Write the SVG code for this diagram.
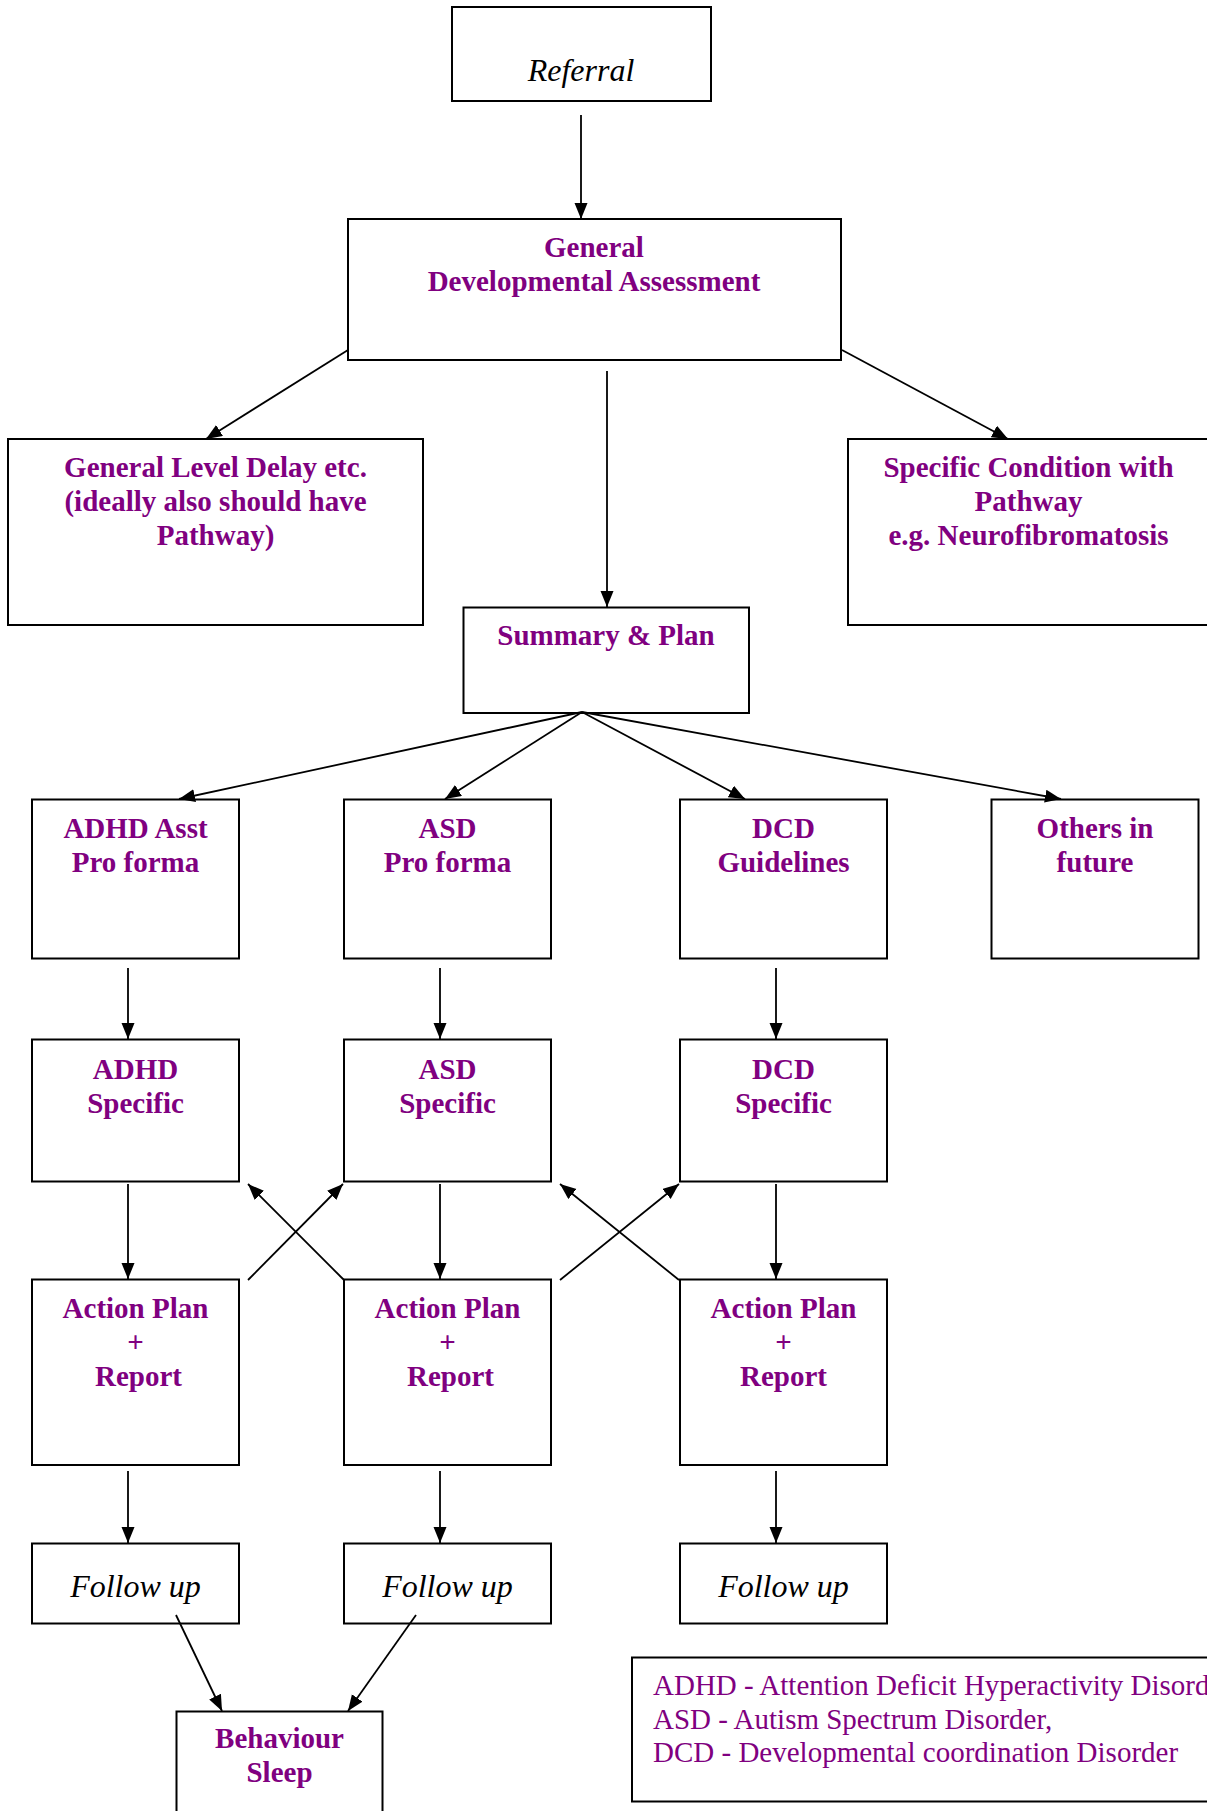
<svg xmlns="http://www.w3.org/2000/svg" width="1207" height="1811" viewBox="0 0 1207 1811">
<style>
.box{fill:#fff;stroke:#000;stroke-width:2}
.b{font-family:"Liberation Serif","Times New Roman",serif;font-weight:bold;font-size:29px;fill:#800080;text-anchor:middle}
.i{font-family:"Liberation Serif","Times New Roman",serif;font-style:italic;font-size:32px;fill:#000;text-anchor:middle}
.r{font-family:"Liberation Serif","Times New Roman",serif;font-size:29px;fill:#800080}
.c line{stroke:#000;stroke-width:1.8;marker-end:url(#ah)}
</style>
<defs>
<marker id="ah" markerUnits="userSpaceOnUse" markerWidth="18" markerHeight="14" refX="16" refY="6.5" orient="auto">
<path d="M0,0 L16,6.5 L0,13 z" fill="#000"/>
</marker>
</defs>
<rect width="1207" height="1811" fill="#fff"/>
<g id="n-referral"><rect class="box" x="452" y="7" width="259" height="94"/><text class="i" x="581" y="81">Referral</text></g>
<g id="n-gda"><rect class="box" x="348" y="219" width="493" height="141"/><text class="b" x="594" y="257">General</text><text class="b" x="594" y="291">Developmental Assessment</text></g>
<g id="n-gld"><rect class="box" x="8" y="439" width="415" height="186"/><text class="b" x="215.5" y="477">General Level Delay etc.</text><text class="b" x="215.5" y="511">(ideally also should have</text><text class="b" x="215.5" y="545">Pathway)</text></g>
<g id="n-specific"><rect class="box" x="848" y="439" width="362" height="186"/><text class="b" x="1028.5" y="477">Specific Condition with</text><text class="b" x="1028.5" y="511">Pathway</text><text class="b" x="1028.5" y="545">e.g. Neurofibromatosis</text></g>
<g id="n-summary"><rect class="box" x="463.5" y="607.5" width="285.5" height="105.5"/><text class="b" x="606" y="645">Summary &amp; Plan</text></g>
<g id="n-adhd-asst"><rect class="box" x="32" y="799.5" width="207" height="159"/><text class="b" x="135.5" y="838">ADHD Asst</text><text class="b" x="135.5" y="872">Pro forma</text></g>
<g id="n-asd-pf"><rect class="box" x="344" y="799.5" width="207" height="159"/><text class="b" x="447.5" y="838">ASD</text><text class="b" x="447.5" y="872">Pro forma</text></g>
<g id="n-dcd-g"><rect class="box" x="680" y="799.5" width="207" height="159"/><text class="b" x="783.5" y="838">DCD</text><text class="b" x="783.5" y="872">Guidelines</text></g>
<g id="n-others"><rect class="box" x="991.5" y="799.5" width="207" height="159"/><text class="b" x="1095" y="838">Others in</text><text class="b" x="1095" y="872">future</text></g>
<g id="n-adhd-s"><rect class="box" x="32" y="1039.5" width="207" height="142"/><text class="b" x="135.5" y="1079">ADHD</text><text class="b" x="135.5" y="1113">Specific</text></g>
<g id="n-asd-s"><rect class="box" x="344" y="1039.5" width="207" height="142"/><text class="b" x="447.5" y="1079">ASD</text><text class="b" x="447.5" y="1113">Specific</text></g>
<g id="n-dcd-s"><rect class="box" x="680" y="1039.5" width="207" height="142"/><text class="b" x="783.5" y="1079">DCD</text><text class="b" x="783.5" y="1113">Specific</text></g>
<g id="n-ap1"><rect class="box" x="32" y="1279.5" width="207" height="185.5"/><text class="b" x="135.5" y="1318">Action Plan</text><text class="b" x="135.5" y="1352">+</text><text class="b" x="138.5" y="1386">Report</text></g>
<g id="n-ap2"><rect class="box" x="344" y="1279.5" width="207" height="185.5"/><text class="b" x="447.5" y="1318">Action Plan</text><text class="b" x="447.5" y="1352">+</text><text class="b" x="450.5" y="1386">Report</text></g>
<g id="n-ap3"><rect class="box" x="680" y="1279.5" width="207" height="185.5"/><text class="b" x="783.5" y="1318">Action Plan</text><text class="b" x="783.5" y="1352">+</text><text class="b" x="783.5" y="1386">Report</text></g>
<g id="n-fu1"><rect class="box" x="32" y="1543.5" width="207" height="80"/><text class="i" x="135.5" y="1597">Follow up</text></g>
<g id="n-fu2"><rect class="box" x="344" y="1543.5" width="207" height="80"/><text class="i" x="447.5" y="1597">Follow up</text></g>
<g id="n-fu3"><rect class="box" x="680" y="1543.5" width="207" height="80"/><text class="i" x="783.5" y="1597">Follow up</text></g>
<g id="n-behaviour"><rect class="box" x="176.5" y="1711.5" width="206" height="110"/><text class="b" x="279.5" y="1748">Behaviour</text><text class="b" x="279.5" y="1782">Sleep</text></g>
<g id="n-legend"><rect class="box" x="632" y="1657.5" width="590" height="144"/><text class="r" x="653" y="1695">ADHD - Attention Deficit Hyperactivity Disorder</text><text class="r" x="653" y="1729">ASD - Autism Spectrum Disorder,</text><text class="r" x="653" y="1762">DCD - Developmental coordination Disorder</text></g>
<g id="connectors" class="c">
<line x1="581" y1="115" x2="581" y2="219"/>
<line x1="348" y1="350" x2="206" y2="439"/>
<line x1="842" y1="350" x2="1008" y2="439"/>
<line x1="607" y1="371" x2="607" y2="607"/>
<line x1="582" y1="712" x2="179" y2="799"/>
<line x1="582" y1="712" x2="445" y2="799"/>
<line x1="582" y1="712" x2="745" y2="799"/>
<line x1="582" y1="712" x2="1061" y2="799"/>
<line x1="128" y1="968" x2="128" y2="1039"/>
<line x1="440" y1="968" x2="440" y2="1039"/>
<line x1="776" y1="968" x2="776" y2="1039"/>
<line x1="128" y1="1184" x2="128" y2="1279"/>
<line x1="440" y1="1184" x2="440" y2="1279"/>
<line x1="776" y1="1184" x2="776" y2="1279"/>
<line x1="248" y1="1280" x2="343" y2="1184"/>
<line x1="344" y1="1280" x2="248" y2="1184"/>
<line x1="560" y1="1280" x2="679" y2="1184"/>
<line x1="679" y1="1280" x2="560" y2="1184"/>
<line x1="128" y1="1471" x2="128" y2="1543"/>
<line x1="440" y1="1471" x2="440" y2="1543"/>
<line x1="776" y1="1471" x2="776" y2="1543"/>
<line x1="176" y1="1615" x2="222" y2="1711"/>
<line x1="416" y1="1615" x2="348" y2="1711"/>
</g>
</svg>
